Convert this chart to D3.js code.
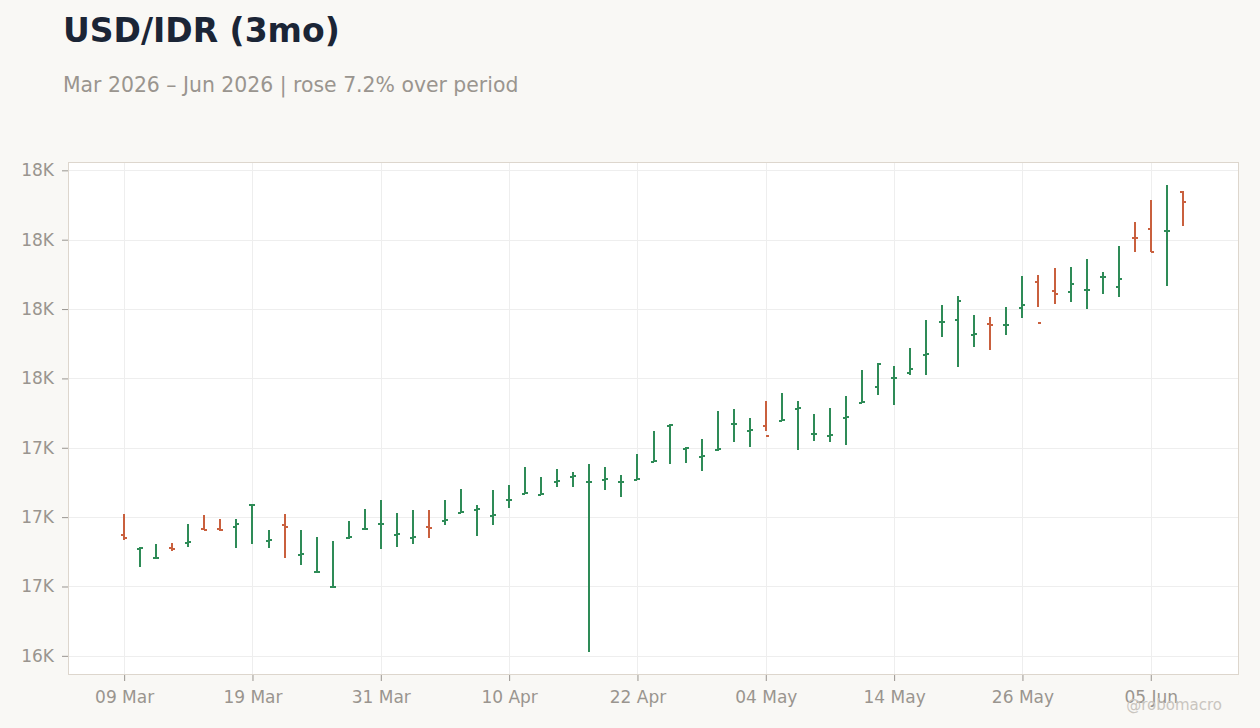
<!DOCTYPE html>
<html><head><meta charset="utf-8">
<script src="https://cdn.jsdelivr.net/npm/d3@7"></script>
<style>
body{margin:0;background:#f9f8f5;}
svg{display:block;font-family:"DejaVu Sans",sans-serif;}
</style>
</head><body>
<svg id="chart" width="1260" height="728"></svg>
<script>
// ---- data ----
const dates = [
 "2026-03-09","2026-03-10","2026-03-11","2026-03-12","2026-03-13",
 "2026-03-16","2026-03-17","2026-03-18","2026-03-19","2026-03-20",
 "2026-03-23","2026-03-24","2026-03-25","2026-03-26","2026-03-27",
 "2026-03-30","2026-03-31","2026-04-01","2026-04-02","2026-04-03",
 "2026-04-06","2026-04-07","2026-04-08","2026-04-09","2026-04-10",
 "2026-04-13","2026-04-14","2026-04-15","2026-04-16","2026-04-17",
 "2026-04-20","2026-04-21","2026-04-22","2026-04-23","2026-04-24",
 "2026-04-27","2026-04-28","2026-04-29","2026-04-30","2026-05-01",
 "2026-05-04","2026-05-05","2026-05-06","2026-05-07","2026-05-08",
 "2026-05-11","2026-05-12","2026-05-13","2026-05-14","2026-05-15",
 "2026-05-18","2026-05-19","2026-05-20","2026-05-21","2026-05-22",
 "2026-05-25","2026-05-26","2026-05-27","2026-05-28","2026-05-29",
 "2026-06-01","2026-06-02","2026-06-03","2026-06-04","2026-06-05",
 "2026-06-08","2026-06-09"];
const open = [
 16934,16886,16853,16888,16908, 16956,16956,16963,17042,16915,
 16970,16865,16801,16748,16926, 16957,16976,16937,16926,16966,
 16987,17015,17027,17005,17060, 17085,17081,17128,17146,17125,
 17135,17125,17135,17200,17330, 17247,17218,17242,17334,17312,
 17328,17348,17391,17298,17294, 17359,17413,17468,17500,17519,
 17586,17702,17710,17656,17696, 17692,17753,17847,17815,17811,
 17817,17864,17828,18007,18038, 18030,18173];
const high = [
 17013,16893,16904,16908,16977, 17009,16995,16995,17044,16955,
 17013,16955,16930,16915,16987, 17031,17060,17016,17027,17024,
 17060,17103,17042,17099,17117, 17182,17143,17175,17164,17193,
 17179,17153,17226,17309,17334, 17251,17280,17381,17388,17359,
 17417,17449,17417,17370,17395, 17435,17532,17554,17543,17608,
 17709,17763,17796,17727,17723, 17756,17868,17871,17897,17900,
 17929,17882,17976,18062,18142, 18196,18174];
const low = [
 16916,16819,16849,16877,16891, 16955,16949,16888,16902,16888,
 16851,16826,16801,16748,16921, 16952,16884,16891,16902,16924,
 16970,17014,16931,16970,17032, 17085,17081,17108,17110,16515,
 17097,17071,17133,17198,17191, 17194,17165,17240,17270,17252,
 17310,17346,17241,17274,17270, 17259,17411,17439,17403,17512,
 17512,17649,17540,17615,17604, 17655,17716,17756,17767,17775,
 17749,17803,17793,17954,17954, 17832,18049];
const close = [
 16926,16888,16854,16886,16910, 16955,16954,16974,17043,16917,
 16963,16867,16802,16749,16928, 16959,16977,16939,16928,16961,
 16989,17017,17031,17007,17061, 17087,17082,17130,17148,17126,
 17137,17126,17137,17202,17332, 17249,17220,17244,17336,17314,
 17292,17349,17393,17299,17296, 17361,17415,17551,17502,17533,
 17588,17704,17779,17660,17691, 17694,17764,17699,17804,17840,
 17819,17866,17857,18005,17954, 18032,18135];
const yTicks = [16500,16750,17000,17250,17500,17750,18000,18250];
const xTickDates = ["2026-03-09","2026-03-19","2026-03-31","2026-04-10","2026-04-22",
                    "2026-05-04","2026-05-14","2026-05-26","2026-06-05"];

// ---- layout ----
const plot = {left: 68, top: 162, right: 1239, bottom: 675};
const UP = "#2e8b57", DOWN = "#c9603e";
const TEXT = "#9a958f";

const rows = dates.map((d, i) => ({d, o: open[i], h: high[i], l: low[i], c: close[i]}));

const svg = d3.select("#chart");

const x = d3.scalePoint().domain(dates).range([plot.left, plot.right]).padding(3.5);
const lo = d3.min(low), hi = d3.max(high), pad = (hi - lo) * 0.05;
const y = d3.scaleLinear().domain([lo - pad, hi + pad]).range([plot.bottom, plot.top]);
const X = d => Math.round(x(d));
const Y = v => Math.round(y(v));

function fmtK(v) {
  const q = v / 1000, f = Math.floor(q);
  let r = Math.round(q);
  if (Math.abs(q - f - 0.5) < 1e-9) r = (f % 2 === 0) ? f : f + 1; // round half to even
  return r + "K";
}
const parse = d3.timeParse("%Y-%m-%d");
const fmtDate = d3.timeFormat("%d %b");

// title
svg.append("text").attr("x", 63).attr("y", 42)
  .attr("font-size", 33).attr("font-weight", "bold").attr("fill", "#1b2536")
  .text("USD/IDR (3mo)");
svg.append("text").attr("x", 63).attr("y", 92)
  .attr("font-size", 20.4).attr("fill", TEXT)
  .text("Mar 2026 – Jun 2026 | rose 7.2% over period");

// plot background
svg.append("rect").attr("x", plot.left).attr("y", plot.top)
  .attr("width", plot.right - plot.left).attr("height", plot.bottom - plot.top)
  .attr("fill", "#ffffff");

// grid
const grid = svg.append("g").attr("stroke", "#eeeeee").attr("stroke-width", 1);
grid.selectAll("line.h").data(yTicks).join("line").attr("class", "h")
  .attr("x1", plot.left).attr("x2", plot.right)
  .attr("y1", d => Y(d) + 0.5).attr("y2", d => Y(d) + 0.5);
grid.selectAll("line.v").data(xTickDates).join("line").attr("class", "v")
  .attr("y1", plot.top).attr("y2", plot.bottom)
  .attr("x1", d => X(d) + 0.5).attr("x2", d => X(d) + 0.5);

// border
svg.append("rect").attr("x", plot.left + 0.5).attr("y", plot.top + 0.5)
  .attr("width", plot.right - plot.left - 1).attr("height", plot.bottom - plot.top - 1)
  .attr("fill", "none").attr("stroke", "#ddd6cd");

// axes
const yAxis = svg.append("g").attr("transform", `translate(${plot.left},0)`)
  .call(d3.axisLeft(y).tickValues(yTicks).tickFormat(fmtK).tickSize(6).tickPadding(8));
const xAxis = svg.append("g").attr("transform", `translate(0,${plot.bottom})`)
  .call(d3.axisBottom(x).tickValues(xTickDates).tickFormat(d => fmtDate(parse(d))).tickSize(6).tickPadding(10));
[yAxis, xAxis].forEach(a => {
  a.select(".domain").remove();
  a.selectAll(".tick line").attr("stroke", "#999590");
  a.selectAll(".tick text").attr("fill", TEXT).attr("font-size", 17)
    .attr("font-family", "DejaVu Sans, sans-serif");
});

// OHLC bars
const bars = svg.append("g").selectAll("g").data(rows).join("g")
  .attr("stroke", d => d.c >= d.o ? UP : DOWN).attr("stroke-width", 2);
bars.append("line")
  .attr("x1", d => X(d.d)).attr("x2", d => X(d.d))
  .attr("y1", d => Y(d.h)).attr("y2", d => Y(d.l));
bars.append("line")
  .attr("x1", d => X(d.d) - 3).attr("x2", d => X(d.d))
  .attr("y1", d => Y(d.o)).attr("y2", d => Y(d.o));
bars.append("line")
  .attr("x1", d => X(d.d)).attr("x2", d => X(d.d) + 3)
  .attr("y1", d => Y(d.c)).attr("y2", d => Y(d.c));

// watermark
svg.append("text").attr("x", 1222).attr("y", 710).attr("text-anchor", "end")
  .attr("font-size", 15).attr("fill", "#c9c5bf").text("@robomacro");
</script>
</body></html>
